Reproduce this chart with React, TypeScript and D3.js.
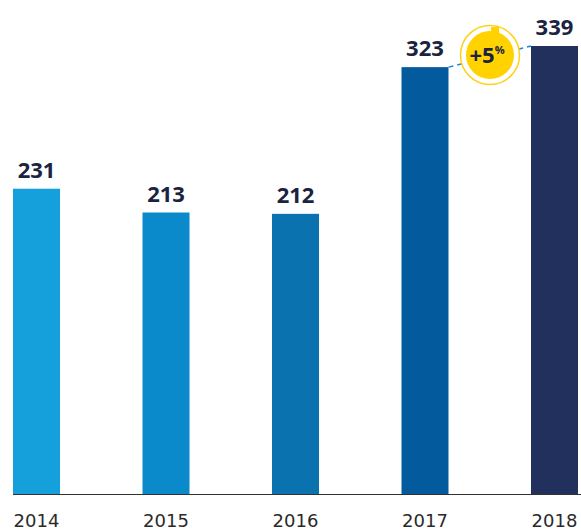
import * as d3 from 'd3';

const years = ['2014', '2015', '2016', '2017', '2018'];
const values = [231, 213, 212, 323, 339];
const colors = ['#15a0db', '#0a8acb', '#0b72b0', '#035a9c', '#22305e'];
const growthLabel = '+5';

const W = 581;
const H = 532;
const baseY = 494;

export default function App() {
  const x = d3
    .scaleBand<string>()
    .domain(years)
    .range([13, 578])
    .paddingInner(0.637)
    .paddingOuter(0);
  const bx = (y: string) => x(y) as number;
  const bw = x.bandwidth();
  const yScale = d3.scaleLinear().domain([0, 339]).range([baseY, 46]);

  const p1 = [bx(years[3]) + bw, yScale(values[3])];
  const p2 = [bx(years[4]), yScale(values[4])];
  const cx = 490;
  const cy = 55;

  return (
    <svg
      width={W}
      height={H}
      style={{ position: 'absolute', left: 0, top: 0, fontFamily: 'DejaVu Sans, Verdana, sans-serif' }}
    >
      <rect width={W} height={H} fill="#fff" />
      {years.map((yr, i) => (
        <g key={yr}>
          <rect
            x={bx(yr)}
            y={yScale(values[i])}
            width={bw}
            height={baseY - yScale(values[i])}
            fill={colors[i]}
          />
          <text
            x={bx(yr) + bw / 2}
            y={yScale(values[i]) - 11}
            textAnchor="middle"
            fontSize={22}
            fontWeight="bold"
            fontFamily="'Open Sans', sans-serif"
            fill="#1a2340"
          >
            {values[i]}
          </text>
          <text
            x={bx(yr) + bw / 2}
            y={527}
            textAnchor="middle"
            fontSize={18}
            fill="#2a2a2a"
          >
            {yr}
          </text>
        </g>
      ))}
      <line x1={13} x2={W} y1={baseY + 0.5} y2={baseY + 0.5} stroke="#333" strokeWidth={1.2} />
      {/* growth badge */}
      <line
        x1={p1[0]}
        y1={p1[1]}
        x2={p2[0]}
        y2={p2[1]}
        stroke="#1a8ad0"
        strokeWidth={1.5}
        strokeDasharray="5,4"
      />
      <circle cx={cx} cy={cy} r={29.5} fill="#fff" stroke="#ffd21a" strokeWidth={1.5} />
      <rect x={cx + 1} y={cy - 28} width={8} height={6} fill="#ffd200" />
      <circle cx={cx} cy={cy} r={24} fill="#ffd200" />
      <text
        x={cx - 3}
        y={cy + 8}
        textAnchor="middle"
        fontSize={22}
        fontWeight="bold"
        fontFamily="'Open Sans', sans-serif"
        fill="#1a2340"
      >
        {growthLabel}
        <tspan fontSize={11} dy={-9}>%</tspan>
      </text>
    </svg>
  );
}
